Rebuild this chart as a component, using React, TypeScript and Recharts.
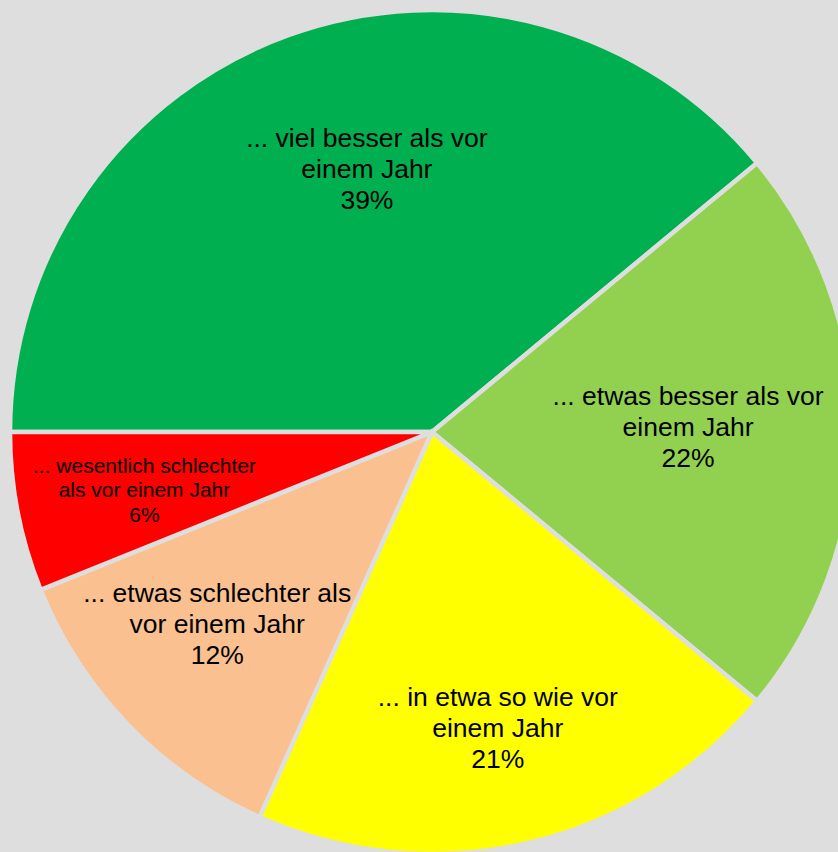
import React from 'react';
import { PieChart, Pie, Cell } from 'recharts';

// answer categories (line breaks as in the chart labels)
const categories = [
  '... viel besser als vor\neinem Jahr',
  '... etwas besser als vor\neinem Jahr',
  '... in etwa so wie vor\neinem Jahr',
  '... etwas schlechter als\nvor einem Jahr',
  '... wesentlich schlechter\nals vor einem Jahr',
];
// slice sizes as measured from the chart (labels show them rounded)
const shares = [39.0, 22.0, 20.7, 12.2, 6.1];
const colors = ['#00b050', '#92d050', '#ffff00', '#fac090', '#ff0000'];

// label placement: fraction of radius, angle nudge (deg), font size
const labelRadius = [0.642, 0.607, 0.718, 0.683, 0.695];
const labelNudge = [-5.9, 1.1, -0.6, -2.1, 0.4];
const labelFont = [26.5, 26.5, 26.5, 26.5, 21];

const data = categories.map((name, i) => ({ name, value: shares[i] }));

const RAD = Math.PI / 180;

function SliceLabel(props: any) {
  const { cx, cy, midAngle, outerRadius, index } = props;
  const ang = (midAngle + labelNudge[index]) * RAD;
  const r = outerRadius * labelRadius[index];
  const x = cx + r * Math.cos(ang);
  const y = cy - r * Math.sin(ang);
  const fs = labelFont[index];
  const lh = fs * 1.16;
  const lines = [...categories[index].split('\n'), `${Math.round(shares[index])}%`];
  return (
    <text
      x={x}
      y={y}
      textAnchor="middle"
      fill="#000"
      style={{ fontFamily: 'Liberation Sans, Arial, sans-serif', fontSize: fs }}
    >
      {lines.map((l, i) => (
        <tspan
          key={i}
          x={x}
          y={y + (i - (lines.length - 1) / 2) * lh}
          dominantBaseline="central"
        >
          {l}
        </tspan>
      ))}
    </text>
  );
}

export default function App() {
  return (
    <div
      style={{
        position: 'absolute',
        left: 0,
        top: 0,
        width: 838,
        height: 852,
        background: '#dedede',
        overflow: 'hidden',
      }}
    >
      <PieChart width={838} height={852} margin={{ top: 0, right: 0, bottom: 0, left: 0 }}>
        <Pie
          data={data}
          dataKey="value"
          nameKey="name"
          cx={432}
          cy={432}
          outerRadius={422}
          startAngle={180}
          endAngle={-180}
          stroke="#dedede"
          strokeWidth={4.5}
          label={SliceLabel}
          labelLine={false}
          isAnimationActive={false}
        >
          {data.map((d, i) => (
            <Cell key={d.name} fill={colors[i]} />
          ))}
        </Pie>
      </PieChart>
    </div>
  );
}
